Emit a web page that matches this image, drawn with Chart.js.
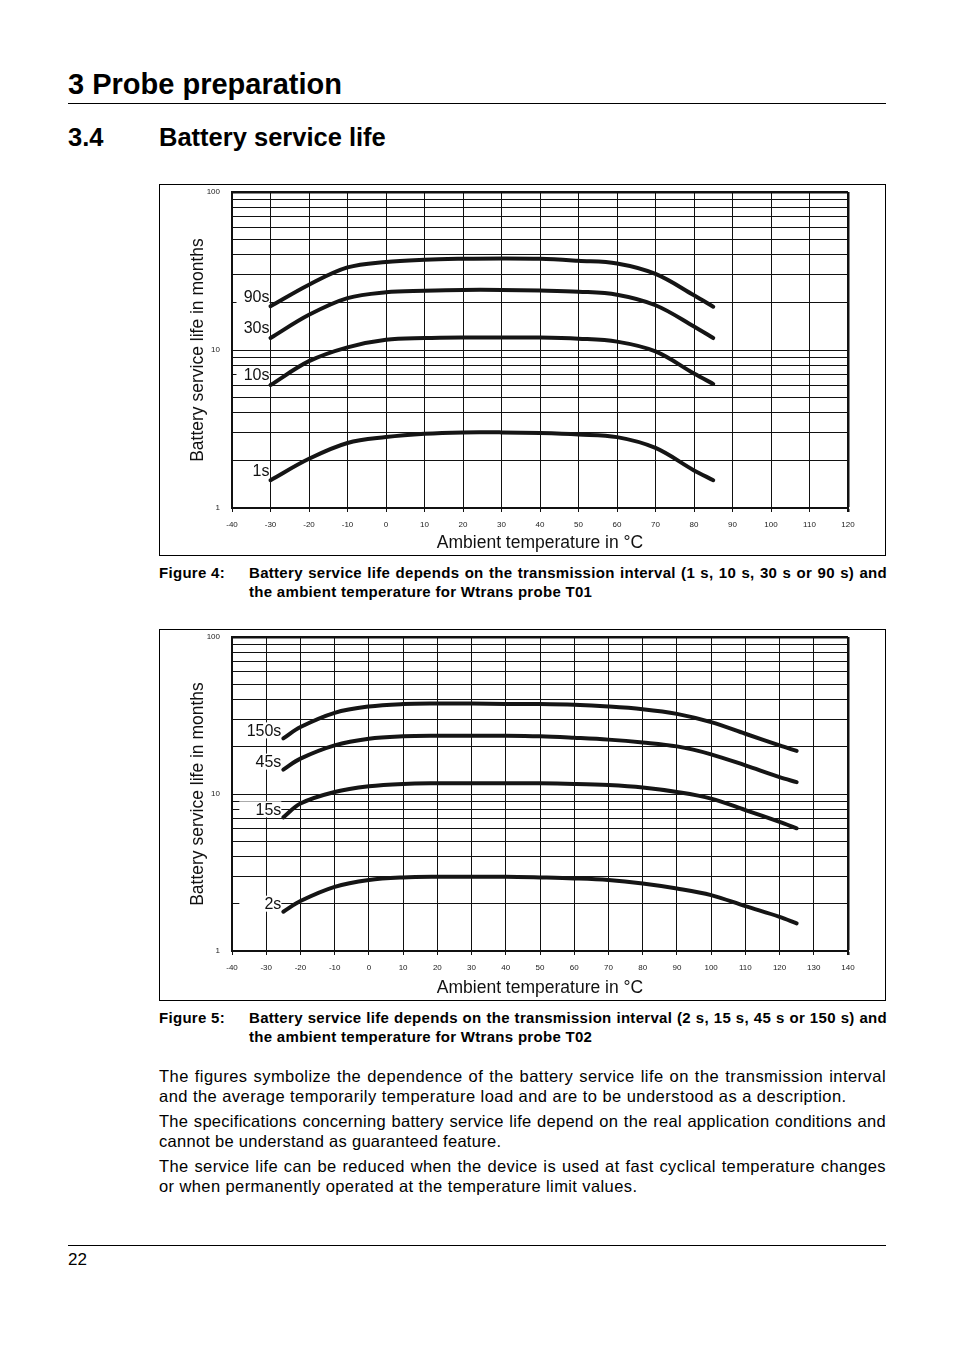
<!DOCTYPE html>
<html lang="en">
<head>
    <meta charset="UTF-8">
    <title>Battery service life</title>
    <script src="https://cdn.jsdelivr.net/npm/chart.js"></script>
    <style>
        body {
            margin: 0;
            width: 954px;
            height: 1351px;
            position: relative;
            background: #fff;
            color: #000;
            font-family: "Liberation Sans", Arial, sans-serif;
        }
        .abs { position: absolute; }
        h1, h2 { margin: 0; font-weight: bold; }
        h1 { font-size: 29px; line-height: 29px; }
        h2 { font-size: 25.5px; line-height: 25px; }
        .rule { height: 1px; background: #000; }
        .chart-box {
            left: 159px;
            width: 725px;
            height: 370px;
            border: 1px solid #000;
        }
        .caption {
            font-size: 15px;
            font-weight: bold;
            line-height: 19px;
            letter-spacing: 0.3px;
        }
        .caption .text {
            position: absolute;
            left: 90px;
            width: 638px;
            top: 0;
            text-align: justify;
        }
        .body-text {
            left: 159px;
            width: 727px;
            font-size: 16.5px;
            line-height: 20px;
            letter-spacing: 0.4px;
        }
        .body-text p {
            margin: 0 0 5px 0;
            text-align: justify;
        }
    </style>
</head>
<body>
    <h1 class="abs" style="left:68px; top:70px;">3 Probe preparation</h1>
    <div class="abs rule" style="left:68px; top:103px; width:818px;"></div>
    <h2 class="abs" style="left:68px; top:125px;">3.4</h2>
    <h2 class="abs" style="left:159px; top:125px;">Battery service life</h2>

    <div class="abs chart-box" style="top:184px;">
        <canvas id="chartT01" width="725" height="370"></canvas>
    </div>
    <div class="abs caption" style="left:159px; top:563px; width:727px;">
        Figure 4:
        <div class="text">Battery service life depends on the transmission interval (1 s, 10 s, 30 s or 90 s) and the ambient temperature for Wtrans probe T01</div>
    </div>

    <div class="abs chart-box" style="top:629px;">
        <canvas id="chartT02" width="725" height="370"></canvas>
    </div>
    <div class="abs caption" style="left:159px; top:1008px; width:727px;">
        Figure 5:
        <div class="text">Battery service life depends on the transmission interval (2 s, 15 s, 45 s or 150 s) and the ambient temperature for Wtrans probe T02</div>
    </div>

    <div class="abs body-text" style="top:1066px;">
        <p style="letter-spacing:0.45px;">The figures symbolize the dependence of the battery service life on the transmission interval and the average temporarily temperature load and are to be understood as a description.</p>
        <p style="letter-spacing:0.28px;">The specifications concerning battery service life depend on the real application conditions and cannot be understand as guaranteed feature.</p>
        <p>The service life can be reduced when the device is used at fast cyclical temperature changes or when permanently operated at the temperature limit values.</p>
    </div>

    <div class="abs rule" style="left:68px; top:1245px; width:818px;"></div>
    <div class="abs" style="left:68px; top:1251px; font-size:17px; line-height:18px;">22</div>

    <script>
        // shared axis values
        const yGridValues = [1, 2, 3, 4, 5, 6, 7, 8, 9, 10, 20, 30, 40, 50, 60, 70, 80, 90, 100];
        const yTickLabels = [1, 10, 100];

        // Wtrans probe T01
        const temps1 = [-30, -20, -10, 0, 10, 20, 30, 40, 50, 60, 70, 80, 85];
        const names1 = ['90s', '30s', '10s', '1s'];
        const life1_90s = [18.9, 25.9, 33.3, 36.1, 37.3, 37.8, 38.0, 37.8, 36.7, 35.3, 30.3, 22.2, 18.8];
        const life1_30s = [11.9, 16.7, 21.3, 23.2, 23.7, 24.0, 24.0, 23.8, 23.4, 22.4, 19.2, 14.1, 11.9];
        const life1_10s = [6.0, 8.5, 10.4, 11.6, 11.9, 12.0, 12.0, 12.0, 11.8, 11.3, 9.8, 7.1, 6.1];
        const life1_1s = [1.5, 2.05, 2.58, 2.81, 2.95, 3.01, 3.01, 2.98, 2.92, 2.81, 2.4, 1.73, 1.5];

        // Wtrans probe T02
        const temps2 = [-25, -20, -10, 0, 10, 20, 30, 40, 50, 60, 70, 80, 90, 100, 110, 120, 125];
        const names2 = ['150s', '45s', '15s', '2s'];
        const life2_150s = [22.6, 26.7, 32.9, 36.1, 37.4, 37.7, 37.7, 37.5, 37.4, 37.0, 36.1, 34.7, 32.4, 28.7, 24.2, 20.4, 18.8];
        const life2_45s = [14.3, 16.8, 20.4, 22.5, 23.3, 23.5, 23.5, 23.5, 23.3, 22.8, 22.2, 21.3, 20.1, 17.9, 15.2, 12.8, 11.9];
        const life2_15s = [7.1, 8.7, 10.3, 11.2, 11.6, 11.7, 11.7, 11.7, 11.7, 11.6, 11.4, 11.0, 10.3, 9.35, 7.9, 6.64, 6.05];
        const life2_2s = [1.78, 2.08, 2.56, 2.83, 2.94, 2.97, 2.97, 2.97, 2.94, 2.9, 2.83, 2.69, 2.5, 2.27, 1.93, 1.65, 1.5];

        Chart.defaults.font.family = '"Liberation Sans", Arial, sans-serif';
        Chart.defaults.color = '#111';

        // interval names written left of each curve start, on a white patch
        const curveLabels = {
            id: 'curveLabels',
            beforeDatasetsDraw(chart, args, opts) {
                const ctx = chart.ctx;
                const xs = chart.scales.x, ys = chart.scales.y;
                ctx.save();
                ctx.font = '16px "Liberation Sans", Arial, sans-serif';
                ctx.textAlign = 'right';
                ctx.textBaseline = 'middle';
                chart.data.datasets.forEach(ds => {
                    const p = ds.data[0];
                    const x = xs.getPixelForValue(p.x) - opts.gap;
                    const y = ys.getPixelForValue(p.y) + opts.dy;
                    const w = Math.max(ctx.measureText(ds.label).width + 3, opts.boxWidth);
                    ctx.fillStyle = '#fff';
                    ctx.fillRect(x - w, y - 8, w, 16);
                    ctx.fillStyle = '#111';
                    ctx.fillText(ds.label, x, y + 1);
                });
                ctx.restore();
            }
        };

        function makeChart(id, temps, names, series, xMax, labelOpts, xAxisHeight) {
            const ctx = document.getElementById(id).getContext('2d');
            new Chart(ctx, {
                type: 'line',
                data: {
                    datasets: series.map((vals, i) => ({
                        label: names[i],
                        data: temps.map((t, j) => ({ x: t, y: vals[j] })),
                        borderColor: '#151515',
                        borderWidth: 4,
                        borderCapStyle: 'round',
                        borderJoinStyle: 'round',
                        pointRadius: 0,
                        fill: false,
                        tension: 0.35
                    }))
                },
                options: {
                    responsive: false,
                    animation: false,
                    events: [],
                    layout: { padding: { left: 0, right: 37, top: 7, bottom: 0 } },
                    plugins: {
                        legend: { display: false },
                        tooltip: { enabled: false },
                        curveLabels: labelOpts
                    },
                    scales: {
                        x: {
                            type: 'linear',
                            min: -40,
                            max: xMax,
                            ticks: {
                                stepSize: 10,
                                autoSkip: false,
                                maxRotation: 0,
                                padding: 8,
                                font: { size: 8 },
                                color: '#222'
                            },
                            grid: {
                                color: '#111',
                                tickLength: 4,
                                lineWidth: c => (c.tick && c.tick.value === xMax) ? 2.5 : 1
                            },
                            border: { color: '#111', width: 2 },
                            title: {
                                display: true,
                                text: 'Ambient temperature in °C',
                                font: { size: 17.5 },
                                color: '#111',
                                padding: { top: 0, bottom: 1 }
                            },
                            afterFit: s => { s.height = xAxisHeight; }
                        },
                        y: {
                            type: 'logarithmic',
                            min: 1,
                            max: 100,
                            afterBuildTicks: s => {
                                s.ticks = yGridValues.map(v => ({ value: v }));
                            },
                            ticks: {
                                autoSkip: false,
                                padding: 2,
                                font: { size: 8 },
                                color: '#222',
                                callback: v => yTickLabels.includes(v) ? String(v) : ''
                            },
                            grid: {
                                color: '#111',
                                tickColor: 'rgba(0,0,0,0)',
                                tickLength: 10,
                                lineWidth: c => (c.tick && c.tick.value === 100) ? 2.5 : 1
                            },
                            border: { color: '#111', width: 2 },
                            title: {
                                display: true,
                                text: 'Battery service life in months',
                                font: { size: 17.5 },
                                color: '#111',
                                padding: { top: 27.5, bottom: 0 }
                            },
                            afterFit: s => { s.width = 72; }
                        }
                    }
                },
                plugins: [curveLabels]
            });
        }

        makeChart('chartT01', temps1, names1,
            [life1_90s, life1_30s, life1_10s, life1_1s], 120,
            { gap: 1, dy: -10, boxWidth: 33 }, 47);

        makeChart('chartT02', temps2, names2,
            [life2_150s, life2_45s, life2_15s, life2_2s], 140,
            { gap: 2, dy: -8, boxWidth: 42 }, 49);
    </script>
</body>
</html>
